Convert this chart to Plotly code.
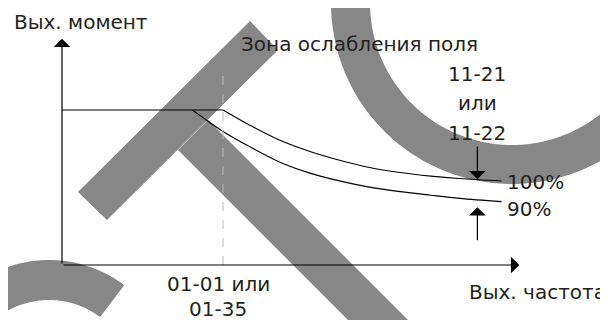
import numpy as np
import plotly.graph_objects as go

# --- schematic data (frequency in units of base frequency, torque in %) ---
const_freq = [0.0, 1.0]
const_torque = [100, 100]

curve100_freq = [1.0, 1.17, 1.35, 1.54, 1.73, 1.91, 2.10, 2.29, 2.47, 2.73]
curve100_torque = [100, 90.0, 80.6, 73.2, 67.4, 62.9, 59.7, 57.4, 55.8, 54.2]

curve90_freq = [0.81, 0.90, 1.0, 1.17, 1.35, 1.54, 1.73, 1.91, 2.10, 2.29, 2.47, 2.73]
curve90_torque = [100, 93.3, 86.2, 76.1, 66.5, 59.3, 54.1, 50.2, 47.3, 45.0, 43.0, 40.9]

base_freq = 1.0
dash_top = 124.5
freq_axis_end = 2.84
torque_axis_end = 146
arrow_freq = 2.58
arrow_down = (77.4, 55.3)
arrow_up = (15.0, 37.2)

labels_curve = ["100%", "90%"]
label_zone = "Зона ослабления поля"
label_params = ["11-21", "или", "11-22"]
label_base = ["01-01 или", "01-35"]
label_x = "Вых. частота"
label_y = "Вых. момент"

PAGE = 8                  # page body margin
W, H = 608 - PAGE, 320 - PAGE
OX, OY = 62 - PAGE, 265 - PAGE   # origin in figure pixels
SX, SY = 161, 1.55        # pixels per unit

TXT = "#231f20"
FONT = "DejaVu Sans, Arial, sans-serif"
GREY = "#878787"


def px(x, y):
    """window pixel position -> paper coords (for the background watermark)"""
    return (x - PAGE) / W, 1 - (y - PAGE) / H


def poly_path(pts):
    p = [px(*q) for q in pts]
    return "M " + " L ".join(f"{a:.5f},{b:.5f}" for a, b in p) + " Z"


def ring_path(cx, cy, r_out, r_in, a0, a1, n=80):
    t = np.radians(np.linspace(a0, a1, n))
    outer = [(cx + r_out * np.cos(a), cy + r_out * np.sin(a)) for a in t]
    inner = [(cx + r_in * np.cos(a), cy + r_in * np.sin(a)) for a in t[::-1]]
    return poly_path(outer + inner)


fig = go.Figure()

fig.add_trace(go.Scatter(x=const_freq, y=const_torque, mode="lines",
                         line=dict(color="black", width=1.2)))
fig.add_trace(go.Scatter(x=curve100_freq, y=curve100_torque, mode="lines",
                         line=dict(color="black", width=1.2, shape="spline")))
fig.add_trace(go.Scatter(x=curve90_freq, y=curve90_torque, mode="lines",
                         line=dict(color="black", width=1.2, shape="spline")))
fig.add_trace(go.Scatter(x=[base_freq, base_freq], y=[0, dash_top], mode="lines",
                         line=dict(color="#b8b8b8", width=1, dash="dash")))

# watermark
shapes = [
    dict(type="path", path=poly_path([(250, 21), (278, 50), (107, 220), (78, 192)])),
    dict(type="path", path=poly_path([(208, 120), (488, 400), (428, 400), (178, 150)])),
    dict(type="path", path=ring_path(512, 3, 181, 142, -10, 190)),
    dict(type="path", path=ring_path(49, 385, 125, 85, -53, -200)),
]
for s in shapes:
    s.update(xref="paper", yref="paper", fillcolor=GREY, line=dict(width=0), layer="below")

ann = []
# axes and limit arrows
for (x0, y0, x1, y1) in [(0, 0, freq_axis_end, 0), (0, 0, 0, torque_axis_end),
                         (arrow_freq, arrow_down[0], arrow_freq, arrow_down[1]),
                         (arrow_freq, arrow_up[0], arrow_freq, arrow_up[1])]:
    ann.append(dict(x=x1, y=y1, ax=x0, ay=y0, xref="x", yref="y", axref="x", ayref="y",
                    text="", showarrow=True, arrowhead=1, arrowsize=2.3, arrowwidth=1.2,
                    arrowcolor="black", standoff=0))

f = dict(family=FONT, size=20, color=TXT)
texts = [
    dict(x=-0.31, y=156.8, text=label_y, xanchor="left"),
    dict(x=1.845, y=142.6, text=label_zone),
    dict(x=2.578, y=123.2, text=label_params[0]),
    dict(x=2.578, y=104.5, text=label_params[1]),
    dict(x=2.578, y=85.2, text=label_params[2]),
    dict(x=2.75, y=53.7, text=labels_curve[0], xanchor="left"),
    dict(x=2.75, y=36.1, text=labels_curve[1], xanchor="left"),
    dict(x=0.969, y=-12.3, text=label_base[0]),
    dict(x=0.969, y=-28.6, text=label_base[1]),
    dict(x=(W - OX) / SX, y=-17.4, text=label_x, xanchor="right"),
]
for a in texts:
    a.update(xref="x", yref="y", showarrow=False, font=f, yanchor="middle")
ann += texts

fig.update_layout(
    width=W, height=H,
    margin=dict(l=0, r=0, t=0, b=0),
    paper_bgcolor="white", plot_bgcolor="white",
    showlegend=False,
    shapes=shapes,
    annotations=ann,
    xaxis=dict(range=[-OX / SX, (W - OX) / SX], visible=False, fixedrange=True),
    yaxis=dict(range=[-(H - OY) / SY, OY / SY], visible=False, fixedrange=True),
)

fig.write_html("out.html")
